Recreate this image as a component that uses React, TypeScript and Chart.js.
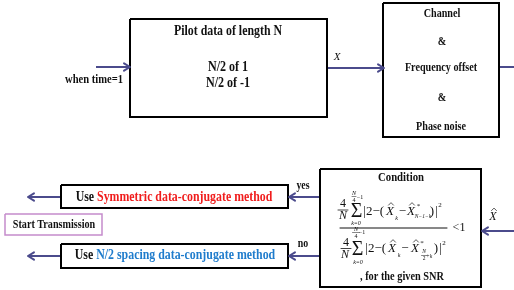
import { useEffect, useRef } from "react";
import { Chart, registerables } from "chart.js";
Chart.register(...registerables);

const W = 514;
const H = 290;

// Diagram blocks (diagram units = pixels of the 514x290 picture)
const blockX0 = [130, 383, 320, 61, 61, 5];
const blockY0 = [19, 3, 169, 185, 244, 214];
const blockX1 = [327, 499, 481, 288, 288, 102];
const blockY1 = [117, 137, 287, 208, 268, 235];
const blockColors = ["#000000", "#000000", "#000000", "#000000", "#000000", "#c58ccc"];
const blockWidths = [2, 2, 2, 2, 2, 1.5];

// Connectors (polyline points), arrow head at last point when flagged
const pathXs = [[96, 130], [327, 384], [499, 514], [514, 482], [320, 289], [61, 28], [320, 289], [61, 28]];
const pathYs = [[67, 67], [68, 68], [67, 67], [231, 231], [197, 197], [197, 197], [256, 256], [256, 256]];
const pathHeads = [true, true, false, true, true, true, true, true];
const ARROW = "#4b4b8c";

// Labels: segments (text,color), centre x, centre y, size, style
type Seg = { t: string; c: string };
const labelSegs: Seg[][] = [
  [{ t: "Pilot data of length N", c: "#111" }],
  [{ t: "N/2 of 1", c: "#111" }],
  [{ t: "N/2 of -1", c: "#111" }],
  [{ t: "when time=1", c: "#111" }],
  [{ t: "Channel", c: "#111" }],
  [{ t: "&", c: "#111" }],
  [{ t: "Frequency offset", c: "#111" }],
  [{ t: "&", c: "#111" }],
  [{ t: "Phase noise", c: "#111" }],
  [{ t: "Condition", c: "#111" }],
  [{ t: ", for the given SNR", c: "#111" }],
  [{ t: "Start Transmission", c: "#111" }],
  [{ t: "Use ", c: "#111" }, { t: "Symmetric data-conjugate method", c: "#f01c1c" }],
  [{ t: "Use ", c: "#111" }, { t: "N/2 spacing data-conjugate method", c: "#1f7ccc" }],
  [{ t: "yes", c: "#111" }],
  [{ t: "no", c: "#111" }],
  [{ t: "X", c: "#111" }],
];
const labelX = [228, 228, 228, 94, 442, 442, 441, 442, 441, 401, 402, 54, 174, 175, 303, 303, 337];
const labelY = [31, 67, 83, 80, 14, 42, 68, 98, 127, 178, 277, 225, 197, 255, 186, 244, 57];
const labelSize = [13.8, 14, 14, 12.3, 11.8, 11.8, 11.8, 11.8, 11.8, 12.5, 12, 11.8, 13.8, 13.8, 11.5, 11.5, 11];
const labelStyle = ["bold", "bold", "bold", "bold", "bold", "bold", "bold", "bold", "bold", "bold", "bold", "bold", "bold", "bold", "bold", "bold", "italic"];
const labelSx = [0.86, 0.86, 0.86, 0.86, 0.86, 0.86, 0.86, 0.86, 0.86, 0.86, 0.86, 0.86, 0.86, 0.86, 0.86, 0.86, 1];

// Formula pieces: text, centre x, centre y, size, italic
const fText = [
  "4", "N", "\u03A3", "N", "4", "\u22121", "k=0", "|", "2\u2212(", "X", "k", "\u2212", "X", "*", "N\u22121\u2212k", ")", "|", "2",
  "4", "N", "\u03A3", "N", "4", "\u22121", "k=0", "|", "2\u2212(", "X", "k", "\u2212", "X", "*", "N", "2", "+k", ")", "|", "2",
  "<1", "X",
];
const fX = [
  343, 343, 356.5, 354, 354, 360, 356, 364.5, 375, 390, 396.5, 402.5, 411, 418.5, 423, 432, 436.5, 440,
  346, 345, 357.5, 356, 356, 362, 358, 366.5, 377, 392, 399, 405, 415, 422, 424, 424, 429, 436, 440.5, 444,
  459, 493,
];
const fY = [
  204, 216, 211.5, 193, 200, 197, 223, 212, 212, 212, 218, 212, 212, 206, 217, 212, 212, 205,
  242.5, 254.5, 249.5, 229, 236, 232.5, 262, 249, 249, 249, 255, 249, 249, 243, 252, 259, 257, 249, 249, 243,
  228, 217,
];
const fSize = [
  12, 12, 20, 6, 6, 6, 6, 13, 13, 13, 6, 13, 13, 7, 5.5, 13, 13, 7,
  12, 12, 20, 6, 6, 6, 6, 13, 13, 13, 6, 13, 13, 7, 5.5, 5.5, 5.5, 13, 13, 7,
  12, 12,
];
const fItalic = [
  0, 1, 0, 1, 0, 0, 1, 0, 0, 1, 1, 0, 1, 0, 1, 0, 0, 0,
  0, 1, 0, 1, 0, 0, 1, 0, 0, 1, 1, 0, 1, 0, 1, 0, 1, 0, 0, 0,
  0, 1,
];
// hats over these formula piece indices
const hatIdx = [9, 12, 27, 30, 39];
// fraction bars: x0, x1, y, width
const barX0 = [338, 352, 340, 341, 352.5, 421.5];
const barX1 = [348, 356, 447, 351, 359.5, 426.5];
const barY = [210, 196.5, 228, 248.5, 232.5, 255.5];
const barW = [0.8, 0.5, 1, 0.8, 0.5, 0.5];

const diagramPlugin = {
  id: "diagram",
  beforeDraw(chart: any) {
    const ctx = chart.ctx;
    ctx.save();
    ctx.fillStyle = "#ffffff";
    ctx.fillRect(0, 0, chart.width, chart.height);
    ctx.restore();
  },
  afterDatasetsDraw(chart: any) {
    const ctx: CanvasRenderingContext2D = chart.ctx;
    const xs = chart.scales.x;
    const ys = chart.scales.y;
    const px = (v: number) => xs.getPixelForValue(v);
    const py = (v: number) => ys.getPixelForValue(v);
    ctx.save();
    // arrow heads
    pathXs.forEach((xsArr, i) => {
      if (!pathHeads[i]) return;
      const n = xsArr.length;
      const x1 = px(xsArr[n - 1]);
      const y1 = py(pathYs[i][n - 1]);
      const x0 = px(xsArr[n - 2]);
      const y0 = py(pathYs[i][n - 2]);
      const a = Math.atan2(y1 - y0, x1 - x0);
      const L = 7;
      ctx.strokeStyle = ARROW;
      ctx.lineWidth = 2;
      ctx.lineCap = "round";
      ctx.lineJoin = "round";
      ctx.beginPath();
      ctx.moveTo(x1 - L * Math.cos(a - 0.55), y1 - L * Math.sin(a - 0.55));
      ctx.lineTo(x1, y1);
      ctx.lineTo(x1 - L * Math.cos(a + 0.55), y1 - L * Math.sin(a + 0.55));
      ctx.stroke();
    });
    // labels
    labelSegs.forEach((segs, i) => {
      const sx = labelSx[i];
      ctx.font = `${labelStyle[i]} ${labelSize[i]}px "Liberation Serif"`;
      const widths = segs.map((s) => ctx.measureText(s.t).width * sx);
      const total = widths.reduce((a, b) => a + b, 0);
      let x = px(labelX[i]) - total / 2;
      const y = py(labelY[i]);
      segs.forEach((s, j) => {
        ctx.save();
        ctx.translate(x, y);
        ctx.scale(sx, 1);
        ctx.fillStyle = s.c;
        ctx.textAlign = "left";
        ctx.textBaseline = "middle";
        ctx.fillText(s.t, 0, 0);
        ctx.restore();
        x += widths[j];
      });
    });
    // formula
    ctx.fillStyle = "#111";
    ctx.textAlign = "center";
    ctx.textBaseline = "middle";
    fText.forEach((t, i) => {
      ctx.font = `${fItalic[i] ? "italic " : ""}${fSize[i]}px "Liberation Serif"`;
      ctx.fillText(t, px(fX[i]), py(fY[i]));
    });
    ctx.strokeStyle = "#111";
    hatIdx.forEach((i) => {
      const cx = px(fX[i]) + 1;
      const top = py(fY[i]) - fSize[i] * 0.45;
      ctx.lineWidth = 0.7;
      ctx.beginPath();
      ctx.moveTo(cx - 2.5, top - 1);
      ctx.lineTo(cx, top - 3.5);
      ctx.lineTo(cx + 2.5, top - 1);
      ctx.stroke();
    });
    barX0.forEach((b, i) => {
      ctx.lineWidth = barW[i];
      ctx.beginPath();
      ctx.moveTo(px(b), py(barY[i]));
      ctx.lineTo(px(barX1[i]), py(barY[i]));
      ctx.stroke();
    });
    ctx.restore();
  },
};

export default function App() {
  const ref = useRef<HTMLCanvasElement>(null);
  useEffect(() => {
    if (!ref.current) return;
    const datasets: any[] = [];
    blockX0.forEach((x0, i) => {
      const x1 = blockX1[i];
      const y0 = blockY0[i];
      const y1 = blockY1[i];
      datasets.push({
        data: [
          { x: x0, y: y0 },
          { x: x1, y: y0 },
          { x: x1, y: y1 },
          { x: x0, y: y1 },
          { x: x0, y: y0 },
        ],
        showLine: true,
        borderColor: blockColors[i],
        borderWidth: blockWidths[i],
        pointRadius: 0,
        fill: false,
        tension: 0,
        borderJoinStyle: "miter",
      });
    });
    pathXs.forEach((arr, i) => {
      datasets.push({
        data: arr.map((x, j) => ({ x, y: pathYs[i][j] })),
        showLine: true,
        borderColor: ARROW,
        borderWidth: 2,
        pointRadius: 0,
        fill: false,
        tension: 0,
      });
    });
    const chart = new Chart(ref.current, {
      type: "scatter",
      data: { datasets },
      options: {
        animation: false,
        responsive: true,
        maintainAspectRatio: false,
        layout: { padding: 0 },
        plugins: { legend: { display: false }, tooltip: { enabled: false } },
        events: [],
        scales: {
          x: { type: "linear", min: 0, max: W, display: false },
          y: { type: "linear", min: 0, max: H, reverse: true, display: false },
        },
      },
      plugins: [diagramPlugin],
    });
    return () => chart.destroy();
  }, []);
  return (
    <div style={{ position: "fixed", left: 0, top: 0, width: W, height: H, background: "#fff" }}>
      <canvas ref={ref} />
    </div>
  );
}
